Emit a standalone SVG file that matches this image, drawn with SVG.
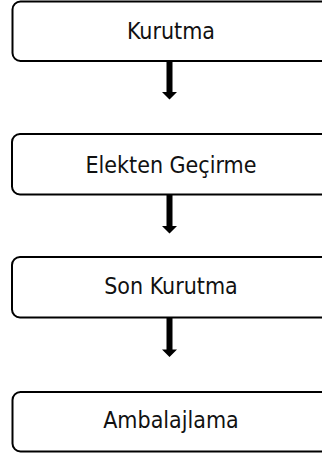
<svg xmlns="http://www.w3.org/2000/svg" width="322" height="456" viewBox="0 0 322 456">
<style>
.box{fill:#fff;stroke:#000;stroke-width:2}
.lbl{font-family:"DejaVu Sans Condensed","DejaVu Sans",sans-serif;font-stretch:condensed;font-size:23px;fill:#111;text-anchor:middle}
.arr{fill:#000}
</style>
<rect width="322" height="456" fill="#fff"/>
<g id="connectors">
<path class="arr" d="M166.5 61.5 H172.5 V92 H177 L169.5 99.5 L162 92 H166.5 Z"/>
<path class="arr" d="M166.5 195 H172.5 V226 H177 L169.5 233.5 L162 226 H166.5 Z"/>
<path class="arr" d="M166.5 318 H172.5 V349.5 H177 L169.5 357 L162 349.5 H166.5 Z"/>
</g>
<g id="n1"><rect class="box" x="12.5" y="1.5" width="320" height="59.5" rx="8"/><text class="lbl" x="171" y="39">Kurutma</text></g>
<g id="n2"><rect class="box" x="12" y="134" width="320" height="60.5" rx="8"/><text class="lbl" x="171" y="173">Elekten Geçirme</text></g>
<g id="n3"><rect class="box" x="12" y="257" width="320" height="60.5" rx="8"/><text class="lbl" x="171" y="294">Son Kurutma</text></g>
<g id="n4"><rect class="box" x="12.5" y="392" width="320" height="59.5" rx="8"/><text class="lbl" x="171" y="428">Ambalajlama</text></g>
</svg>
